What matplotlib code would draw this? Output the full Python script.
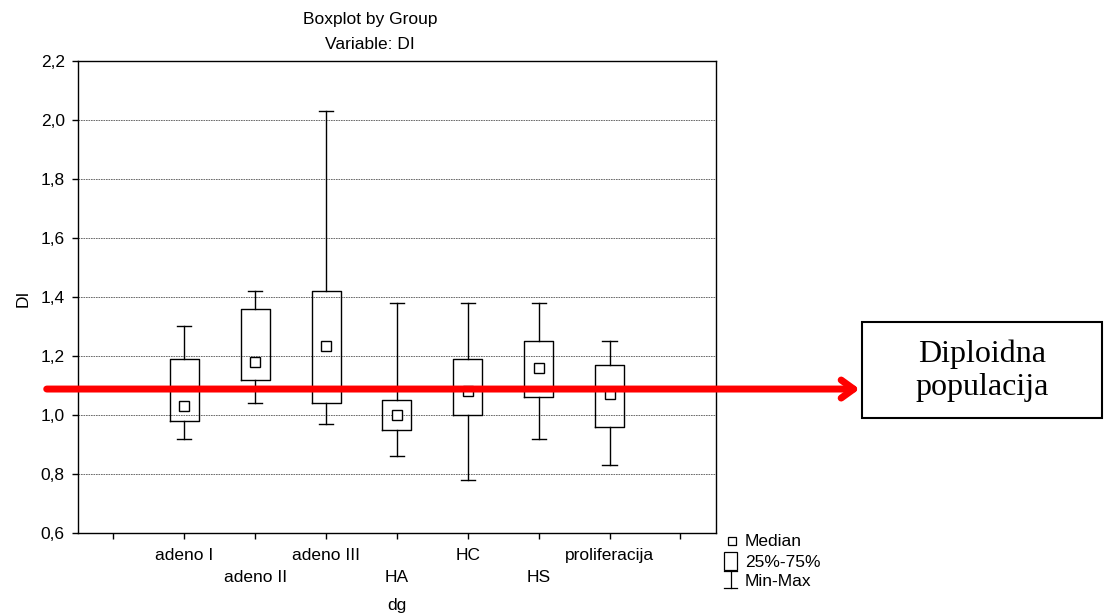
import matplotlib
matplotlib.use('Agg')
import matplotlib.pyplot as plt
from matplotlib.patches import Rectangle
from matplotlib.lines import Line2D
import matplotlib.transforms as mtransforms

plt.rcParams['font.family'] = ['Liberation Sans', 'DejaVu Sans']

groups = ['adeno I', 'adeno II', 'adeno III', 'HA', 'HC', 'HS', 'proliferacija']
medians = [1.03, 1.18, 1.235, 1.00, 1.08, 1.16, 1.07]
q1 = [0.98, 1.12, 1.04, 0.95, 1.00, 1.06, 0.96]
q3 = [1.19, 1.36, 1.42, 1.05, 1.19, 1.25, 1.17]
mins = [0.92, 1.04, 0.97, 0.86, 0.78, 0.92, 0.83]
maxs = [1.30, 1.42, 2.03, 1.38, 1.38, 1.38, 1.25]
diploid = 1.088

FS = 12.5


def run():
    fig = plt.figure(figsize=(11.12, 6.13), dpi=100)
    ax = fig.add_axes([0.0701, 0.1305, 0.5737, 0.770])

    stats = []
    for i, g in enumerate(groups):
        stats.append({'label': g, 'med': medians[i], 'q1': q1[i], 'q3': q3[i],
                      'whislo': mins[i], 'whishi': maxs[i], 'mean': medians[i],
                      'fliers': []})
    pos = list(range(1, len(groups) + 1))
    ax.bxp(stats, positions=pos, widths=0.41, showmeans=True, showfliers=False,
           boxprops=dict(color='black', linewidth=1),
           whiskerprops=dict(color='black', linewidth=1),
           capprops=dict(color='black', linewidth=1),
           medianprops=dict(linewidth=0),
           meanprops=dict(marker='s', markersize=7, markerfacecolor='white',
                          markeredgecolor='black', markeredgewidth=1),
           capwidths=0.2, zorder=3)

    ax.set_xlim(-0.5, 8.5)
    ax.set_ylim(0.6, 2.2)
    ax.set_xticks(range(0, 9))
    ax.set_xticklabels([])
    ax.set_yticks([0.6, 0.8, 1.0, 1.2, 1.4, 1.6, 1.8, 2.0, 2.2])
    ax.set_yticklabels(['0,6', '0,8', '1,0', '1,2', '1,4', '1,6', '1,8', '2,0', '2,2'],
                       fontsize=FS)
    ax.tick_params(direction='out', length=4, width=1, color='black', pad=5.5)
    for sp in ax.spines.values():
        sp.set_linewidth(1)
    for y in [0.8, 1.0, 1.2, 1.4, 1.6, 1.8, 2.0]:
        ax.axhline(y, color='#555555', linestyle=(0, (2, 1)), linewidth=0.6, zorder=1)

    # staggered group labels
    for i, g in enumerate(groups):
        off = -16 if i % 2 == 0 else -31.7
        ax.annotate(g, xy=(pos[i], 0.6), xytext=(0, off), textcoords='offset points',
                    ha='center', va='center', fontsize=FS, annotation_clip=False)
    fig.text(0.357, 0.013, 'dg', ha='center', va='center', fontsize=FS)
    fig.text(0.021, 0.514, 'DI', ha='center', va='center', rotation=90, fontsize=FS)
    fig.text(0.333, 0.969, 'Boxplot by Group', ha='center', va='center', fontsize=FS)
    fig.text(0.333, 0.928, 'Variable: DI', ha='center', va='center', fontsize=FS)

    # red arrow at the diploid population level
    trans = mtransforms.blended_transform_factory(fig.transFigure, ax.transData)
    ax.annotate('', xy=(0.773, diploid), xycoords=trans,
                xytext=(0.042, diploid), textcoords=trans,
                arrowprops=dict(arrowstyle='->,head_length=0.9,head_width=0.65',
                                color='#ff0000', linewidth=5,
                                shrinkA=0, shrinkB=0),
                annotation_clip=False, zorder=5)

    fig.add_artist(Rectangle((0.775, 0.318), 0.216, 0.157, transform=fig.transFigure,
                             facecolor='white', edgecolor='black', linewidth=1.5))
    fig.text(0.883, 0.395, 'Diploidna\npopulacija', ha='center', va='center',
             fontsize=23, family=['Liberation Serif', 'DejaVu Serif'], linespacing=1.2)

    # legend
    fig.add_artist(Rectangle((0.6547, 0.1109), 0.0072, 0.013, transform=fig.transFigure,
                             facecolor='white', edgecolor='black', linewidth=0.9))
    fig.text(0.670, 0.116, 'Median', ha='left', va='center', fontsize=FS)
    fig.add_artist(Rectangle((0.6511, 0.070), 0.0117, 0.029, transform=fig.transFigure,
                             facecolor='white', edgecolor='black', linewidth=0.9))
    fig.text(0.670, 0.083, '25%-75%', ha='left', va='center', fontsize=FS)
    fig.add_artist(Line2D([0.657, 0.657], [0.041, 0.068], transform=fig.transFigure,
                          color='black', linewidth=0.9))
    fig.add_artist(Line2D([0.6511, 0.6628], [0.068, 0.068], transform=fig.transFigure,
                          color='black', linewidth=0.9))
    fig.add_artist(Line2D([0.6511, 0.6628], [0.041, 0.041], transform=fig.transFigure,
                          color='black', linewidth=0.9))
    fig.text(0.670, 0.051, 'Min-Max', ha='left', va='center', fontsize=FS)

    fig.savefig('out.png', dpi=100)


if __name__ == '__main__':
    run()
